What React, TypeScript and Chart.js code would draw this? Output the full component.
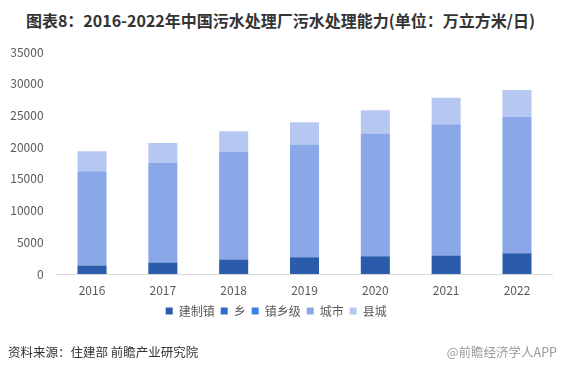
import React, { useEffect, useRef } from "react";
import { Chart, registerables } from "chart.js";

Chart.register(...registerables);

const years = ["2016", "2017", "2018", "2019", "2020", "2021", "2022"];
const jianzhizhen = [1340, 1820, 2290, 2650, 2810, 2920, 3290];
const xiang = [0, 0, 0, 0, 0, 0, 0];
const zhenxiangji = [0, 0, 0, 0, 0, 0, 0];
const chengshi = [14860, 15690, 16960, 17760, 19340, 20700, 21480];
const xiancheng = [3160, 3160, 3270, 3530, 3680, 4160, 4220];

const seriesNames = ["建制镇", "乡", "镇乡级", "城市", "县城"];
const seriesColors = ["#2b5cab", "#2f6bd2", "#3a80e6", "#8aa8e8", "#b6c7f2"];

const FONT = "'Noto Sans CJK SC', 'Noto Sans', sans-serif";

export default function App() {
  const canvasRef = useRef<HTMLCanvasElement | null>(null);

  useEffect(() => {
    const canvas = canvasRef.current;
    if (!canvas) return;
    const values = [jianzhizhen, xiang, zhenxiangji, chengshi, xiancheng];
    const chart = new Chart(canvas, {
      type: "bar",
      data: {
        labels: years,
        datasets: seriesNames.map((name, i) => ({
          label: name,
          data: values[i],
          backgroundColor: seriesColors[i],
          borderWidth: 0,
          categoryPercentage: 0.41,
          barPercentage: 1,
        })),
      },
      options: {
        animation: false,
        responsive: false,
        maintainAspectRatio: false,
        layout: { padding: { top: 52, right: 8.6, bottom: 47, left: 0 } },
        font: { family: FONT },
        plugins: {
          legend: {
            position: "bottom",
            labels: {
              boxWidth: 7,
              boxHeight: 7,
              padding: 6,
              color: "#595959",
              font: { family: FONT, size: 12 },
            },
          },
          tooltip: { enabled: false },
          title: { display: false },
        },
        scales: {
          x: {
            stacked: true,
            grid: { display: false, drawTicks: false },
            border: { display: true, color: "#d9d9d9", width: 1 },
            ticks: {
              color: "#595959",
              padding: 9,
              font: { family: FONT, size: 12 },
            },
            afterFit: (scale: any) => {
              scale.height = 25;
            },
          },
          y: {
            stacked: true,
            min: 0,
            max: 35000,
            grid: { display: false, drawTicks: false },
            border: { display: false },
            ticks: {
              stepSize: 5000,
              color: "#595959",
              padding: 13,
              font: { family: FONT, size: 12 },
              callback: (v: any) => String(v),
            },
            afterFit: (scale: any) => {
              scale.width = 56.6;
            },
          },
        },
      },
    });
    return () => chart.destroy();
  }, []);

  return (
    <div
      style={{
        position: "fixed",
        left: 0,
        top: 0,
        width: 561,
        height: 374,
        background: "#ffffff",
        overflow: "hidden",
        fontFamily: FONT,
      }}
    >
      <div
        style={{
          position: "absolute",
          left: 0,
          top: 9,
          width: 561,
          textAlign: "center",
          fontSize: 16,
          fontWeight: 700,
          lineHeight: "22px",
          color: "#333333",
          whiteSpace: "nowrap",
        }}
      >
        图表8：2016-2022年中国污水处理厂污水处理能力(单位：万立方米/日)
      </div>
      <canvas
        ref={canvasRef}
        width={561}
        height={374}
        style={{ position: "absolute", left: 0, top: 0, width: 561, height: 374 }}
      />
      <div
        style={{
          position: "absolute",
          left: 8,
          top: 343,
          fontSize: 12.5,
          lineHeight: "18px",
          color: "#333333",
          whiteSpace: "nowrap",
        }}
      >
        资料来源：住建部 前瞻产业研究院
      </div>
      <div
        style={{
          position: "absolute",
          right: 4,
          top: 343,
          fontSize: 12.5,
          lineHeight: "18px",
          color: "#9a9a9a",
          whiteSpace: "nowrap",
        }}
      >
        @前瞻经济学人APP
      </div>
    </div>
  );
}
